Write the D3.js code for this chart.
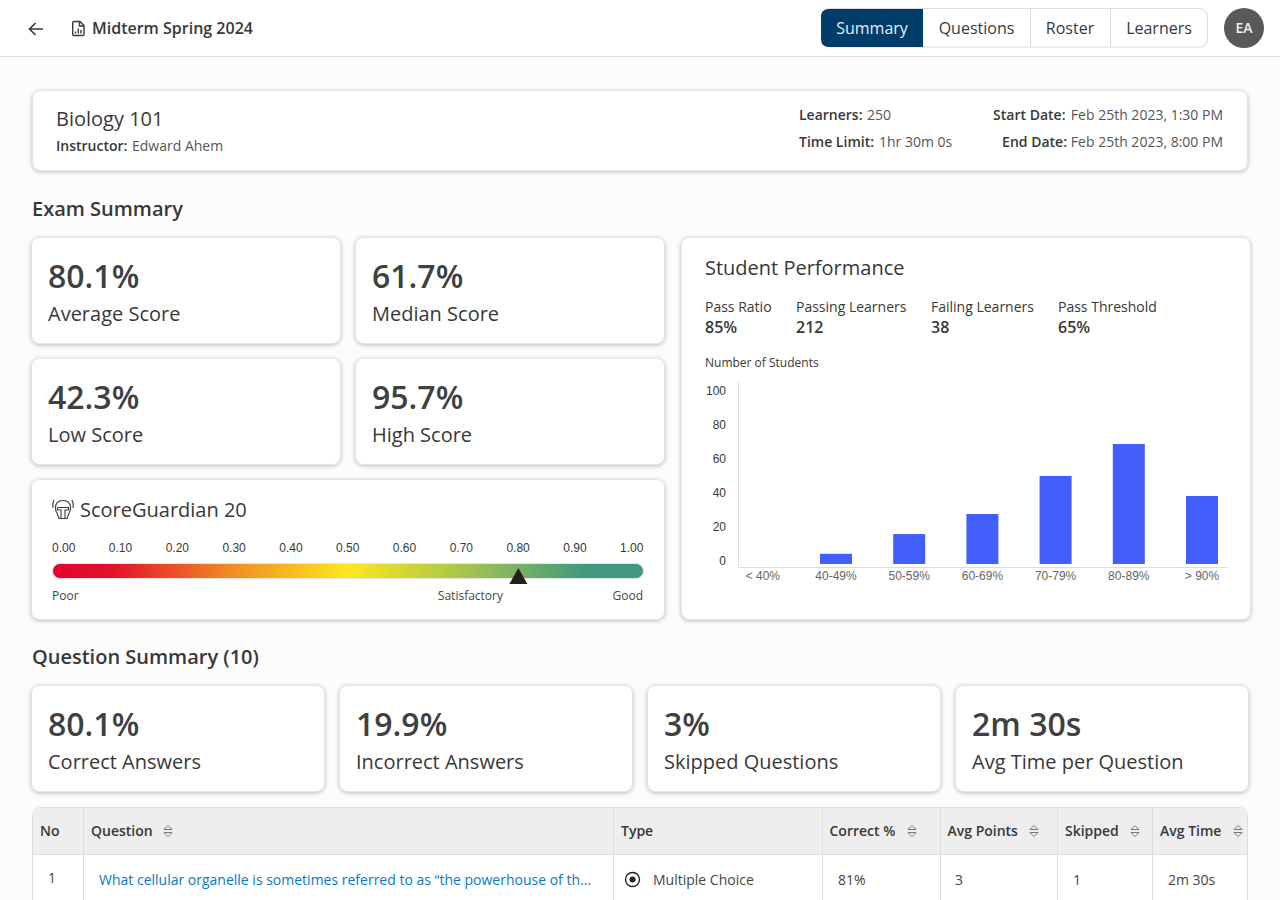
<!DOCTYPE html>
<html>
<head>
<meta charset="utf-8">
<script src="https://cdn.jsdelivr.net/npm/d3@7"></script>
<style>
  html, body { margin: 0; padding: 0; background: #fcfcfc; overflow: hidden; }
  svg { display: block; font-family: "Open Sans", sans-serif; }
  .card { fill: #fff; stroke: #e6e6e6; stroke-width: 1; filter: drop-shadow(0 1px 2px rgba(0,0,0,.26)); }
</style>
</head>
<body>
<svg id="page" width="1280" height="900"></svg>
<script>
// data
const tabs = ['Summary', 'Questions', 'Roster', 'Learners'];
const examStatValues = ['80.1%', '61.7%', '42.3%', '95.7%'];
const examStatLabels = ['Average Score', 'Median Score', 'Low Score', 'High Score'];
const questionStatValues = ['80.1%', '19.9%', '3%', '2m 30s'];
const questionStatLabels = ['Correct Answers', 'Incorrect Answers', 'Skipped Questions', 'Avg Time per Question'];
const perfLabels = ['Pass Ratio', 'Passing Learners', 'Failing Learners', 'Pass Threshold'];
const perfValues = ['85%', '212', '38', '65%'];
const scoreBuckets = ['< 40%', '40-49%', '50-59%', '60-69%', '70-79%', '80-89%', '> 90%'];
const studentCounts = [0, 6, 17.6, 29.4, 51.8, 70.6, 40];
const countTicks = [0, 20, 40, 60, 80, 100];
const guardianTicks = [0, 0.1, 0.2, 0.3, 0.4, 0.5, 0.6, 0.7, 0.8, 0.9, 1];
const guardianScore = 0.8;
const tableHeaders = ['No', 'Question', 'Type', 'Correct %', 'Avg Points', 'Skipped', 'Avg Time'];
const tableRow = ['1', 'What cellular organelle is sometimes referred to as “the powerhouse of th...', 'Multiple Choice', '81%', '3', '1', '2m 30s'];

const dark = '#383838';
const svg = d3.select('#page');

function label(parent, x, y, str, size, weight, color, anchor) {
  return parent.append('text')
    .attr('x', x)
    .attr('y', y)
    .attr('font-size', size)
    .attr('font-weight', weight || 400)
    .attr('fill', color || dark)
    .attr('text-anchor', anchor || 'start')
    .text(str);
}

function card(x, y, w, h) {
  svg.append('rect').attr('class', 'card')
    .attr('x', x + 0.5).attr('y', y + 0.5)
    .attr('width', w - 1).attr('height', h - 1)
    .attr('rx', 8);
}

// top bar
svg.append('rect').attr('width', 1280).attr('height', 56).attr('fill', '#fff');
svg.append('line').attr('x1', 0).attr('x2', 1280).attr('y1', 56.5).attr('y2', 56.5).attr('stroke', '#e0e0e0');
svg.append('path')
  .attr('d', 'M43 29H30M35.5 23L29.5 29L35.5 35')
  .attr('fill', 'none').attr('stroke', dark).attr('stroke-width', 1.6);
svg.append('path')
  .attr('d', 'M74 21.5H80L84 25.5V34.5Q84 35.5 83 35.5H74Q72.7 35.5 72.7 34.5V22.8Q72.7 21.5 74 21.5ZM79.5 21.5V26H84')
  .attr('fill', 'none').attr('stroke', dark).attr('stroke-width', 1.4);
svg.append('path')
  .attr('d', 'M75.5 33.5V31.5M78.3 33.5V28.5M81 33.5V30')
  .attr('fill', 'none').attr('stroke', dark).attr('stroke-width', 1.4);
label(svg, 92, 34, 'Midterm Spring 2024', 16, 600);

// tabs
const tabEdges = [821, 923, 1030, 1110, 1208];
svg.append('rect').attr('x', 821.5).attr('y', 8.5).attr('width', 386).attr('height', 38.5)
  .attr('rx', 8).attr('fill', '#fff').attr('stroke', '#dcdcdc');
svg.append('path')
  .attr('d', 'M923 9H829Q821 9 821 17V39Q821 47 829 47H923Z')
  .attr('fill', '#003d6b');
tabs.forEach((t, i) => {
  if (i > 1) {
    svg.append('line').attr('x1', tabEdges[i] + 0.5).attr('x2', tabEdges[i] + 0.5)
      .attr('y1', 9).attr('y2', 47).attr('stroke', '#dcdcdc');
  }
  label(svg, (tabEdges[i] + tabEdges[i + 1]) / 2, 34, t, 16, 400, i === 0 ? '#e8eef3' : dark, 'middle');
});
svg.append('circle').attr('cx', 1244).attr('cy', 28).attr('r', 20).attr('fill', '#595959');
label(svg, 1244, 33, 'EA', 14, 600, '#eeeeee', 'middle');

// course info
card(32, 90, 1216, 81);
label(svg, 56, 126, 'Biology 101', 20);
label(svg, 56, 151, 'Instructor:', 14, 600);
label(svg, 132, 151, 'Edward Ahem', 14, 400, '#555');
label(svg, 799, 120, 'Learners:', 14, 600);
label(svg, 867, 120, '250', 14, 400, '#555');
label(svg, 799, 147, 'Time Limit:', 14, 600);
label(svg, 879, 147, '1hr 30m 0s', 14, 400, '#555');
label(svg, 1065.5, 120, 'Start Date:', 14, 600, dark, 'end');
label(svg, 1223, 120, 'Feb 25th 2023, 1:30 PM', 14, 400, '#555', 'end');
label(svg, 1067, 147, 'End Date:', 14, 600, dark, 'end');
label(svg, 1223, 147, 'Feb 25th 2023, 8:00 PM', 14, 400, '#555', 'end');

// exam summary
label(svg, 32, 216, 'Exam Summary', 20, 600);
examStatValues.forEach((v, i) => {
  const x = i % 2 === 0 ? 32 : 356;
  const y = i < 2 ? 238 : 359;
  card(x - 1, y - 1, 310, 107);
  label(svg, x + 16, y + 50, v, 32, 600, '#404040');
  label(svg, x + 16, y + 83, examStatLabels[i], 20);
});

// score guardian
card(31, 479, 634, 141);
const helmet = svg.append('g').attr('fill', 'none').attr('stroke', dark).attr('stroke-width', 1.1);
helmet.append('path').attr('d', 'M55.5 508Q55.5 500.5 63 500.5Q70.5 500.5 70.5 508Q70.5 511 69 513L67 518.5H59L57 513Q55.5 511 55.5 508Z');
helmet.append('path').attr('d', 'M57.5 507.5H68.5V510H65V518M57.5 507.5V510H61V518');
helmet.append('path').attr('d', 'M54 500Q52 504 53 508M72 500Q74 504 73 508');
label(svg, 80, 517, 'ScoreGuardian 20', 20);

const defs = svg.append('defs');
const grad = defs.append('linearGradient').attr('id', 'guardian');
[[0, '#e4032e'], [0.1, '#e4102a'], [0.3, '#f08a24'], [0.5, '#fde81f'], [0.7, '#a5c44e'], [0.9, '#3f997e'], [1, '#3f997e']]
  .forEach(s => grad.append('stop').attr('offset', s[0]).attr('stop-color', s[1]));

const xGuardian = d3.scaleLinear().domain([0, 1]).range([64, 632]);
svg.append('rect').attr('x', 52.5).attr('y', 563.5).attr('width', 591).attr('height', 15)
  .attr('rx', 7.5).attr('fill', 'url(#guardian)').attr('stroke', '#e3e3e3');
const guardianAxis = svg.append('g')
  .attr('transform', 'translate(-0.8, 552)')
  .call(d3.axisTop(xGuardian).tickValues(guardianTicks).tickFormat(d3.format('.2f')).tickSize(0).tickPadding(0));
guardianAxis.select('.domain').remove();
guardianAxis.selectAll('text').attr('font-family', 'inherit').attr('font-size', 12).attr('fill', dark);
svg.append('path')
  .attr('transform', `translate(${xGuardian(guardianScore)}, 568)`)
  .attr('d', d3.line()([[0, 0], [9, 16], [-9, 16]]) + 'Z')
  .attr('fill', '#231f20');
label(svg, 52, 600, 'Poor', 12, 400, '#444');
label(svg, 503, 600, 'Satisfactory', 12, 400, '#444', 'end');
label(svg, 643, 600, 'Good', 12, 400, '#444', 'end');

// student performance
card(681, 237, 570, 383);
label(svg, 705, 275, 'Student Performance', 20);
const perfX = [705, 796, 931, 1058];
perfLabels.forEach((l, i) => {
  label(svg, perfX[i], 312, l, 14);
  label(svg, perfX[i], 333, perfValues[i], 16, 600);
});
label(svg, 705, 367, 'Number of Students', 12);

const xBucket = d3.scaleBand().domain(scoreBuckets).range([726.2, 1238.6]).paddingInner(0.5628).paddingOuter(0.2814);
const yCount = d3.scaleLinear().domain([0, 100]).range([564, 394]);

svg.selectAll('rect.bar')
  .data(studentCounts)
  .enter()
  .append('rect')
  .attr('class', 'bar')
  .attr('x', (d, i) => xBucket(scoreBuckets[i]))
  .attr('y', d => yCount(d))
  .attr('width', xBucket.bandwidth())
  .attr('height', d => yCount(0) - yCount(d))
  .attr('fill', '#435ffb');

const yAxis = svg.append('g')
  .attr('transform', 'translate(726, -3)')
  .call(d3.axisLeft(yCount).tickValues(countTicks).tickSize(0).tickPadding(0));
yAxis.select('.domain').remove();
yAxis.selectAll('text').attr('font-family', 'inherit').attr('font-size', 12).attr('fill', dark);

const xAxis = svg.append('g')
  .attr('transform', 'translate(0, 571)')
  .call(d3.axisBottom(xBucket).tickSize(0).tickPadding(0));
xAxis.select('.domain').remove();
xAxis.selectAll('text').attr('font-family', 'inherit').attr('font-size', 12).attr('fill', '#666');

svg.append('path')
  .attr('d', 'M738.5 382V567.5H1227')
  .attr('fill', 'none').attr('stroke', '#dddddd');

// question summary
label(svg, 32, 664, 'Question Summary (10)', 20, 600);
questionStatValues.forEach((v, i) => {
  const x = 32 + i * 308;
  card(x - 1, 685, 294, 107);
  label(svg, x + 16, 736, v, 32, 600, '#404040');
  label(svg, x + 16, 769, questionStatLabels[i], 20);
});

// table
const colEdges = [83.5, 613.5, 822.5, 940.5, 1057.5, 1152.5];
const headerX = [40, 91, 621, 829.5, 947.5, 1065, 1160];
const sortX = [null, 168, null, 912, 1034, 1135, 1238];
const rowX = [48, 99, 653, 838, 955, 1073, 1168];
svg.append('rect').attr('x', 32.5).attr('y', 807.5).attr('width', 1215).attr('height', 120)
  .attr('rx', 8).attr('fill', '#fff').attr('stroke', '#dedede');
svg.append('path')
  .attr('d', 'M33 854V816Q33 808 41 808H1239Q1247 808 1247 816V854Z')
  .attr('fill', '#eeeeee');
svg.append('line').attr('x1', 33).attr('x2', 1247).attr('y1', 854.5).attr('y2', 854.5).attr('stroke', '#dedede');
colEdges.forEach(x => {
  svg.append('line').attr('x1', x).attr('x2', x).attr('y1', 808).attr('y2', 900).attr('stroke', '#dedede');
});
tableHeaders.forEach((h, i) => {
  label(svg, headerX[i], 836, h, 14, 600);
  if (sortX[i]) {
    svg.append('path')
      .attr('transform', `translate(${sortX[i]}, 831)`)
      .attr('d', 'M-4 -1.5L0 -5.5L4 -1.5ZM-4 1.5L0 5.5L4 1.5Z')
      .attr('fill', 'none').attr('stroke', '#777').attr('stroke-width', 1);
  }
});
tableRow.forEach((v, i) => {
  const y = i === 0 ? 883 : 885;
  label(svg, rowX[i], y, v, 14, 400, i === 1 ? '#0a77c7' : '#444');
});
svg.append('circle').attr('cx', 632.5).attr('cy', 879.5).attr('r', 7).attr('fill', 'none').attr('stroke', '#222').attr('stroke-width', 1.4);
svg.append('circle').attr('cx', 632.5).attr('cy', 879.5).attr('r', 3).attr('fill', '#222');
</script>
</body>
</html>
